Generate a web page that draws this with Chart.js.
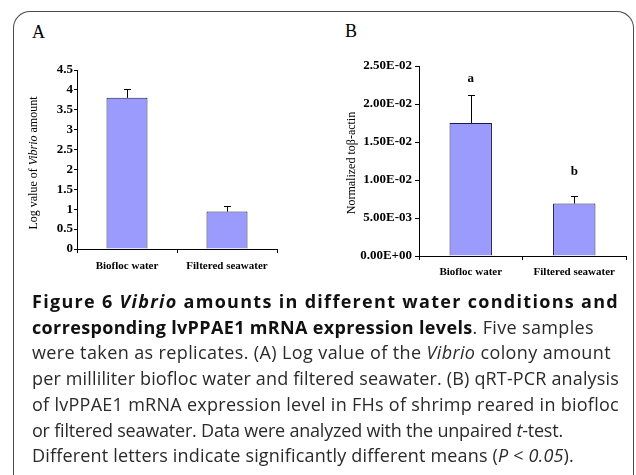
<!DOCTYPE html>
<html>
<head>
<meta charset="utf-8">
<script src="https://cdn.jsdelivr.net/npm/chart.js@4.4.1/dist/chart.umd.min.js"></script>
<style>
  body { margin:0; background:#fff; width:636px; height:475px; overflow:hidden; position:relative; }
  .frame { position:absolute; left:13px; top:11px; width:619px; height:520px; border:1.5px solid #4a4a4a; border-bottom:none; border-radius:17px 17px 0 0; }
  .panel { position:absolute; font-family:"Liberation Serif", serif; font-size:18px; color:#000; }
  canvas { position:absolute; top:0; }
  .caption { position:absolute; left:32px; top:289px; font-family:"Open Sans", sans-serif; font-size:18px; line-height:25.7px; color:#2a2a2a; white-space:nowrap; }
  .caption span { display:block; }
  .caption b { color:#111; }
</style>
</head>
<body>
<div class="frame"></div>
<div class="panel" style="left:32px;top:22px;">A</div>
<div class="panel" style="left:345px;top:21px;">B</div>
<canvas id="chartA" width="318" height="290" style="left:0"></canvas>
<canvas id="chartB" width="318" height="290" style="left:318px"></canvas>
<div class="caption">
<span data-w="587"><b>Figure 6 <i>Vibrio</i> amounts in different water conditions and</b></span>
<span data-w="562"><b>corresponding lvPPAE1 mRNA expression levels</b>. Five samples</span>
<span data-w="579">were taken as replicates. (A) Log value of the <i>Vibrio</i> colony amount</span>
<span data-w="587">per milliliter biofloc water and filtered seawater. (B) qRT-PCR analysis</span>
<span data-w="587">of lvPPAE1 mRNA expression level in FHs of shrimp reared in biofloc</span>
<span data-w="531">or filtered seawater. Data were analyzed with the unpaired <i>t</i>-test.</span>
<span data-w="542">Different letters indicate significantly different means (<i>P</i> &lt; <i>0.05</i>).</span>
</div>
<script>
// data
var categories = ['Biofloc water', 'Filtered seawater'];
var vibrioLog = [3.80, 0.94];
var vibrioErr = [0.22, 0.13];
var yTicksA = ['0', '0.5', '1', '1.5', '2', '2.5', '3', '3.5', '4', '4.5'];
var expression = [0.0175, 0.0069];
var expressionErr = [0.0037, 0.0010];
var sigLetters = ['a', 'b'];
var sigLetterAt = [0.0234, 0.0111];
var yTicksB = ['0.00E+00', '5.00E-03', '1.00E-02', '1.50E-02', '2.00E-02', '2.50E-02'];

var serif = 'Liberation Serif';
var barFill = '#9b9bfd';
var barLine = '#1c1c48';

// stretch caption lines to the widths of the printed caption
document.querySelectorAll('.caption span').forEach(function(line) {
  line.style.display = 'inline-block';
  var w = line.getBoundingClientRect().width;
  var n = line.textContent.length;
  line.style.letterSpacing = ((+line.dataset.w - w) / n).toFixed(3) + 'px';
  line.style.display = 'block';
});

// upper error whisker with cap
var errorBars = {
  id: 'errorBars',
  afterDatasetsDraw: function(chart, args, opts) {
    var ctx = chart.ctx, meta = chart.getDatasetMeta(0), y = chart.scales.y;
    ctx.save();
    ctx.strokeStyle = '#000';
    ctx.lineWidth = 1;
    meta.data.forEach(function(bar, i) {
      var top = y.getPixelForValue(opts.values[i] + opts.errors[i]);
      var x = Math.round(bar.x) + 0.5;
      ctx.beginPath();
      ctx.moveTo(x, bar.y);
      ctx.lineTo(x, Math.round(top) + 0.5);
      ctx.moveTo(x - 3.5, Math.round(top) + 0.5);
      ctx.lineTo(x + 3.5, Math.round(top) + 0.5);
      ctx.stroke();
    });
    if (opts.letters) {
      ctx.fillStyle = '#000';
      ctx.font = 'bold 13px "' + serif + '"';
      ctx.textAlign = 'center';
      ctx.textBaseline = 'middle';
      meta.data.forEach(function(bar, i) {
        ctx.fillText(opts.letters[i], bar.x, y.getPixelForValue(opts.letterAt[i]));
      });
    }
    ctx.restore();
  }
};

// rotated y title, pieces may be italic
var yTitle = {
  id: 'yTitle',
  afterDraw: function(chart, args, opts) {
    var ctx = chart.ctx;
    ctx.save();
    ctx.translate(opts.x, opts.y);
    ctx.rotate(-Math.PI / 2);
    ctx.fillStyle = '#000';
    ctx.textBaseline = 'middle';
    var total = 0;
    opts.parts.forEach(function(p) {
      ctx.font = (p.italic ? 'italic ' : '') + '12px "' + serif + '"';
      total += ctx.measureText(p.text).width;
    });
    var cx = -total / 2;
    opts.parts.forEach(function(p) {
      ctx.font = (p.italic ? 'italic ' : '') + '12px "' + serif + '"';
      ctx.fillText(p.text, cx, 0);
      cx += ctx.measureText(p.text).width;
    });
    ctx.restore();
  }
};

function makeOptions(cfg) {
  return {
    responsive: false,
    animation: false,
    layout: { padding: cfg.padding },
    plugins: {
      legend: { display: false },
      tooltip: { enabled: false },
      errorBars: cfg.err,
      yTitle: cfg.title
    },
    scales: {
      x: {
        grid: { display: true, drawOnChartArea: false, offset: true, tickLength: 4, color: '#000' },
        border: { color: '#000', width: 1 },
        ticks: { color: '#000', padding: cfg.xPad, font: { family: serif, size: 11, weight: 'bold' } },
        afterFit: function(s) { s.height = cfg.xHeight; }
      },
      y: {
        min: 0,
        max: cfg.max,
        grid: { display: true, drawOnChartArea: false, tickLength: cfg.yTick, color: '#000' },
        border: { color: '#000', width: 1 },
        ticks: {
          stepSize: cfg.step,
          color: '#000',
          padding: cfg.yPad,
          font: { family: serif, size: 13, weight: 'bold' },
          callback: function(v, i) { return cfg.labels[i]; }
        },
        afterFit: function(s) { s.width = cfg.yWidth; }
      }
    }
  };
}

new Chart(document.getElementById('chartA'), {
  type: 'bar',
  data: {
    labels: categories,
    datasets: [{ data: vibrioLog, backgroundColor: barFill, borderColor: barLine, borderWidth: 1, categoryPercentage: 1, barPercentage: 0.41 }]
  },
  options: makeOptions({
    padding: { left: 0, top: 70, right: 41, bottom: 0 },
    max: 4.5, step: 0.5, labels: yTicksA,
    yWidth: 77, yTick: 3, yPad: 1,
    xHeight: 41, xPad: 7,
    err: { values: vibrioLog, errors: vibrioErr },
    title: { x: 34, y: 163, parts: [{ text: 'Log value of ' }, { text: 'Vibrio', italic: true }, { text: ' amount' }] }
  }),
  plugins: [errorBars, yTitle]
});

new Chart(document.getElementById('chartB'), {
  type: 'bar',
  data: {
    labels: categories,
    datasets: [{ data: expression, backgroundColor: barFill, borderColor: barLine, borderWidth: 1, categoryPercentage: 1, barPercentage: 0.41 }]
  },
  options: makeOptions({
    padding: { left: 0, top: 66, right: 10, bottom: 0 },
    max: 0.025, step: 0.005, labels: yTicksB,
    yWidth: 101, yTick: 4, yPad: 3,
    xHeight: 34, xPad: 6,
    err: { values: expression, errors: expressionErr, letters: sigLetters, letterAt: sigLetterAt },
    title: { x: 34, y: 163, parts: [{ text: 'Normalized toβ-actin' }] }
  }),
  plugins: [errorBars, yTitle]
});
</script>
</body>
</html>
